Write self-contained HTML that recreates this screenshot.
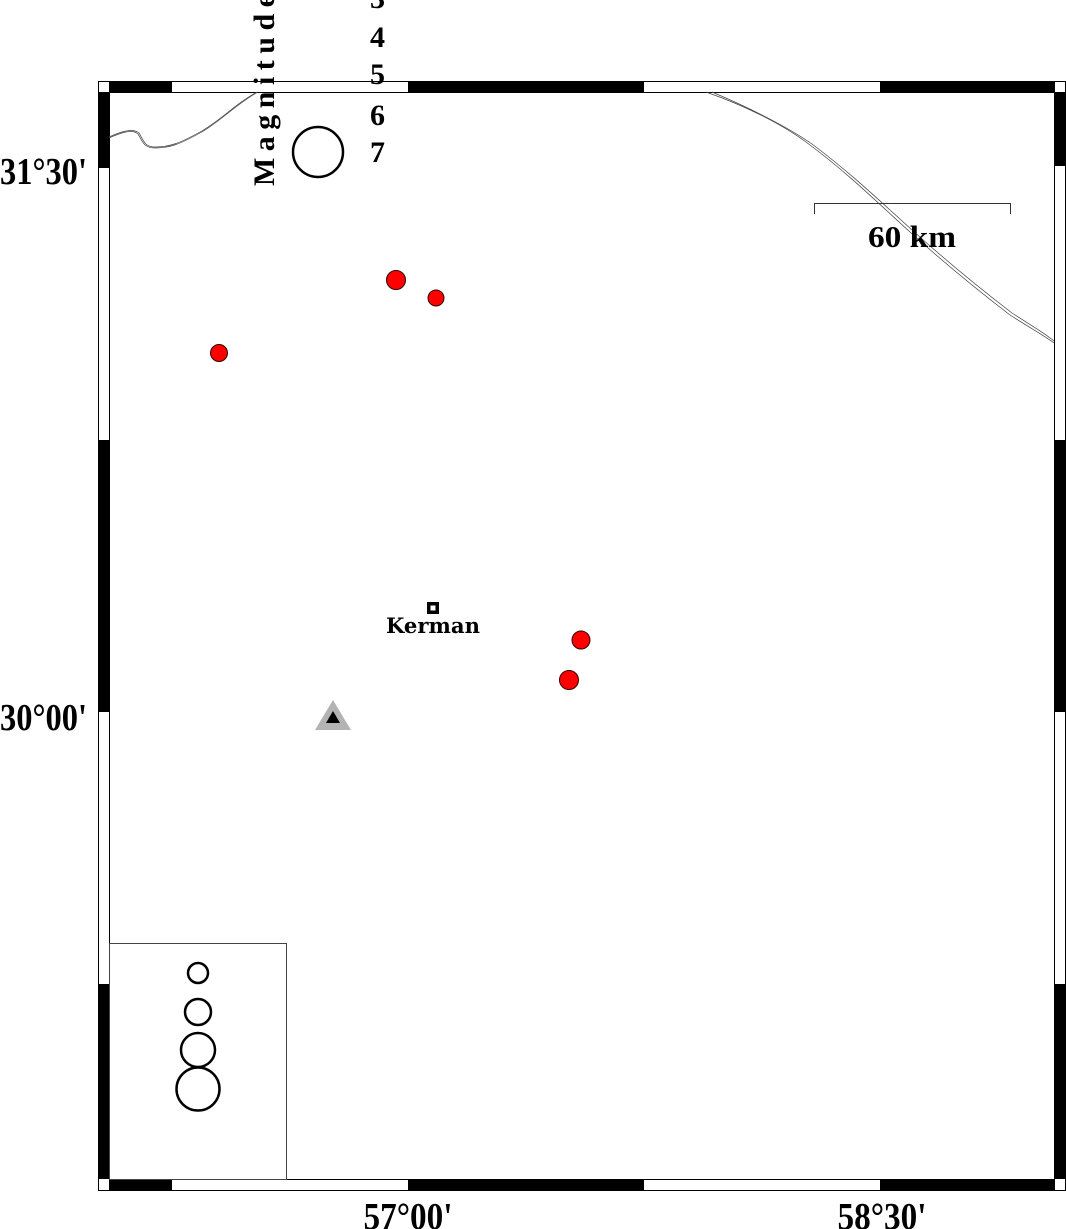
<!DOCTYPE html>
<html><head><meta charset="utf-8"><style>html,body{margin:0;padding:0;background:#fff}svg{display:block}</style></head>
<body>
<svg width="1066" height="1229" viewBox="0 0 1066 1229" xmlns="http://www.w3.org/2000/svg" font-family="Liberation Serif, serif" font-weight="bold">
<rect width="1066" height="1229" fill="#fff"/>
<rect x="98.5" y="81.5" width="967" height="1109" fill="none" stroke="#000" stroke-width="1"/>
<rect x="109.5" y="92.5" width="945" height="1087" fill="none" stroke="#000" stroke-width="1"/>
<g fill="#000">
<rect x="109" y="82" width="63" height="10"/><rect x="408" y="82" width="236" height="10"/><rect x="880" y="82" width="175" height="10"/>
<rect x="109" y="1180" width="63" height="10"/><rect x="408" y="1180" width="236" height="10"/><rect x="880" y="1180" width="175" height="10"/>
<rect x="99" y="92" width="10" height="76"/><rect x="99" y="440" width="10" height="272"/><rect x="99" y="984" width="10" height="195"/>
<rect x="1055" y="92" width="10" height="74"/><rect x="1055" y="440" width="10" height="272"/><rect x="1055" y="984" width="10" height="195"/>
</g>
<g fill="none" stroke="#444" stroke-width="0.7">
<path d="M109,138 C118,134 132,128 138,134 C142,140 143,148 155,148 C170,148 180,144 200,133 C220,122 235,105 258,92"/>
<path d="M109,137 C118,133 132,127 139,133 C143,139 144,147 155,147 C170,147 180,143 200,132 C220,121 235,104 257,92"/>
<path d="M706,92 C740,104 780,122 810,145 C850,175 880,205 910,232 C950,268 980,292 1010,315 C1030,328 1045,336 1054,343"/>
<path d="M712,92 C745,106 783,124 812,144 C852,174 882,203 912,230 C952,266 982,290 1012,313 C1032,326 1046,334 1054,341"/>
</g>
<path d="M814.5,214 V203.5 H1010.5 V214" fill="none" stroke="#333" stroke-width="1"/>
<text x="912" y="247" font-size="31" text-anchor="middle" textLength="88" lengthAdjust="spacingAndGlyphs">60 km</text>
<text transform="translate(274,186) rotate(-90)" font-size="30" textLength="192" lengthAdjust="spacing">Magnitude</text>
<g font-size="30">
<text x="370" y="8">3</text><text x="370" y="47">4</text><text x="370" y="84">5</text><text x="370" y="125">6</text><text x="370" y="162">7</text>
</g>
<circle cx="318" cy="152" r="25" fill="none" stroke="#000" stroke-width="2.5"/>
<g fill="#f00" stroke="#300" stroke-width="1">
<circle cx="396" cy="280" r="9.5"/><circle cx="436" cy="298" r="8"/><circle cx="219" cy="353" r="8.5"/>
<circle cx="581" cy="640" r="9"/><circle cx="569" cy="680" r="9.5"/>
</g>
<rect x="427" y="602" width="12" height="12" fill="#000"/><rect x="430.5" y="605.5" width="5" height="5" fill="#fff"/>
<text x="433" y="633" font-size="21" text-anchor="middle" font-family="DejaVu Serif, serif" textLength="94" lengthAdjust="spacingAndGlyphs">Kerman</text>
<polygon points="333,700 315,730 351,730" fill="#b3b3b3"/>
<polygon points="333,711 326,723 340,723" fill="#000"/>
<rect x="109.5" y="943.5" width="177" height="236" fill="#fff" stroke="#444" stroke-width="1"/>
<g fill="none" stroke="#000" stroke-width="2.5">
<circle cx="198" cy="973" r="10"/><circle cx="198" cy="1012" r="13"/><circle cx="198" cy="1050" r="17"/><circle cx="198" cy="1089" r="21.5"/>
</g>
<g font-size="38">
<text x="0" y="184" textLength="87" lengthAdjust="spacingAndGlyphs">31°30'</text>
<text x="0" y="730" textLength="87" lengthAdjust="spacingAndGlyphs">30°00'</text>
<text x="408" y="1229" text-anchor="middle" textLength="89" lengthAdjust="spacingAndGlyphs">57°00'</text>
<text x="882" y="1229" text-anchor="middle" textLength="89" lengthAdjust="spacingAndGlyphs">58°30'</text>
</g>
</svg>
</body></html>
